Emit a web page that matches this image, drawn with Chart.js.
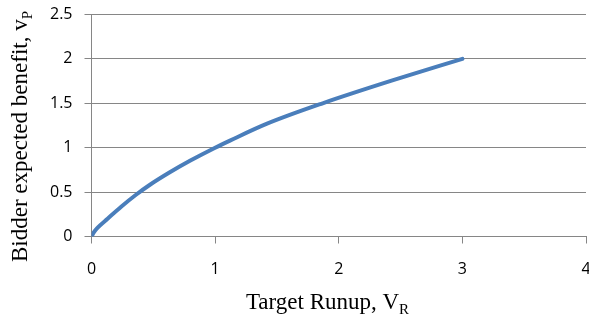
<!DOCTYPE html>
<html>
<head>
<meta charset="utf-8">
<script src="https://cdn.jsdelivr.net/npm/chart.js@4.4.1/dist/chart.umd.min.js"></script>
<style>
  html, body { margin: 0; padding: 0; background: #fff; }
  #wrap { width: 589px; height: 318px; }
</style>
</head>
<body>
<div id="wrap"><canvas id="chart" width="589" height="318"></canvas></div>
<script>
// values
const runupValues = [0, 0.02, 0.05, 0.13, 0.24, 0.36, 0.47, 0.63, 0.8, 1.0, 1.12, 1.42, 1.87, 2.44, 3.0];
const benefitValues = [0, 0.05, 0.1, 0.2, 0.335, 0.47, 0.58, 0.72, 0.855, 1.0, 1.08, 1.27, 1.5, 1.76, 2.0];

const xTitle = ['Target Runup, V', 'R'];
const yTitle = ['Bidder expected benefit, v', 'P'];

const GRID = '#868686';
const LINE = '#4A7EBB';

function drawSubText(ctx, parts, x, y) {
  // main text then a smaller, lowered subscript; x is the centre
  ctx.font = '23px "Liberation Serif"';
  const w1 = ctx.measureText(parts[0]).width;
  ctx.font = '15px "Liberation Serif"';
  const w2 = ctx.measureText(parts[1]).width;
  const start = x - (w1 + w2) / 2;
  ctx.textAlign = 'left';
  ctx.textBaseline = 'alphabetic';
  ctx.font = '23px "Liberation Serif"';
  ctx.fillText(parts[0], start, y);
  ctx.font = '15px "Liberation Serif"';
  ctx.fillText(parts[1], start + w1, y + 5);
}

const axisTitlesPlugin = {
  id: 'axisTitles',
  afterDraw(chart) {
    const { ctx } = chart;
    ctx.save();
    ctx.fillStyle = '#000';
    drawSubText(ctx, xTitle, 327.5, 309);
    ctx.translate(27, 136.5);
    ctx.rotate(-Math.PI / 2);
    drawSubText(ctx, yTitle, 0, 0);
    ctx.restore();
  },
};

const tickFont = { family: '"Open Sans"', size: 16 };

new Chart(document.getElementById('chart'), {
  type: 'line',
  plugins: [axisTitlesPlugin],
  data: {
    datasets: [{
      data: runupValues.map((x, i) => ({ x, y: benefitValues[i] })),
      borderColor: LINE,
      backgroundColor: LINE,
      borderWidth: 4,
      pointRadius: 0,
      cubicInterpolationMode: 'monotone',
      borderCapStyle: 'round',
    }],
  },
  options: {
    responsive: false,
    animation: false,
    layout: { padding: { top: 14.5, right: 3, left: 0, bottom: 0 } },
    plugins: { legend: { display: false }, tooltip: { enabled: false } },
    scales: {
      x: {
        type: 'linear',
        min: 0,
        max: 4,
        ticks: { stepSize: 1, color: '#000', padding: 16, font: tickFont, callback: (v) => `${v}` },
        grid: { drawOnChartArea: false, color: GRID, tickColor: GRID, tickLength: 7 },
        border: { color: GRID },
        afterFit(scale) {
          scale.height = 81.5;
          scale.paddingLeft = 0;
          scale.paddingRight = 0;
        },
      },
      y: {
        min: 0,
        max: 2.5,
        ticks: { stepSize: 0.5, color: '#000', padding: 12, font: tickFont, callback: (v) => `${v}` },
        grid: { color: GRID, tickColor: GRID, tickLength: 7 },
        border: { color: GRID },
        afterFit(scale) {
          scale.width = 91.5;
          scale.paddingTop = 0;
          scale.paddingBottom = 0;
        },
      },
    },
  },
});
</script>
</body>
</html>
